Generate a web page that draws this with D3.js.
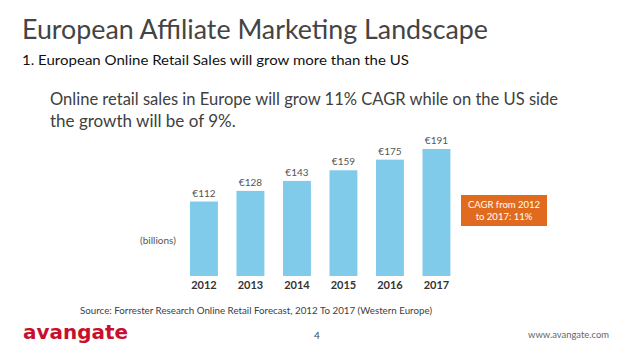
<!DOCTYPE html>
<html>
<head>
<meta charset="utf-8">
<script src="https://cdn.jsdelivr.net/npm/d3@7"></script>
<style>
  html, body { margin: 0; padding: 0; background: #fff; }
  svg { display: block; }
</style>
</head>
<body>
<svg id="chart" width="638" height="359"></svg>
<script>
const years = ["2012", "2013", "2014", "2015", "2016", "2017"];
const sales = [112, 128, 143, 159, 175, 191];
const valueLabels = ["€112", "€128", "€143", "€159", "€175", "€191"];
const titleText = "European Affiliate Marketing Landscape";
const subtitleText = "1. European Online Retail Sales will grow more than the US";
const bodyLines = ["Online retail sales in Europe will grow 11% CAGR while on the US side", "the growth will be of 9%."];
const unitLabel = "(billions)";
const calloutLines = ["CAGR from 2012", "to 2017: 11%"];
const sourceText = "Source: Forrester Research Online Retail Forecast, 2012 To 2017 (Western Europe)";
const pageNumber = "4";
const siteText = "www.avangate.com";
const logoText = "avangate";

const svg = d3.select("#chart");
const font = "Lato, 'Open Sans', sans-serif";

// Header texts
svg.append("text").attr("x", 22).attr("y", 39)
  .attr("font-family", font).attr("font-size", 26).attr("fill", "#444")
  .attr("textLength", 466).attr("lengthAdjust", "spacingAndGlyphs")
  .text(titleText);
svg.append("text").attr("x", 22).attr("y", 65)
  .attr("font-family", font).attr("font-size", 14).attr("fill", "#111")
  .attr("textLength", 387).attr("lengthAdjust", "spacingAndGlyphs")
  .text(subtitleText);
bodyLines.forEach((t, i) => {
  const el = svg.append("text").attr("x", 50).attr("y", 105 + i * 22)
    .attr("font-family", font).attr("font-size", 17).attr("fill", "#404040")
    .text(t);
  if (i === 0) el.attr("textLength", 508).attr("lengthAdjust", "spacingAndGlyphs");
});

// Chart
const x = d3.scaleBand().domain(years).range([180.7, 459.7]).paddingInner(0.4).paddingOuter(0.2);
const y = d3.scaleLinear().domain([0, 191]).range([276, 149]);

svg.append("g").selectAll("rect").data(years).join("rect")
  .attr("x", d => x(d))
  .attr("y", (d, i) => y(sales[i]))
  .attr("width", x.bandwidth())
  .attr("height", (d, i) => y(0) - y(sales[i]))
  .attr("fill", "#80CAEA");

svg.append("g").selectAll("text").data(years).join("text")
  .attr("x", d => x(d) + x.bandwidth() / 2)
  .attr("y", (d, i) => y(sales[i]) - 5)
  .attr("text-anchor", "middle")
  .attr("font-family", font).attr("font-size", 10).attr("fill", "#555")
  .text((d, i) => valueLabels[i]);

const xAxis = svg.append("g").attr("transform", `translate(0,${y(0)})`)
  .call(d3.axisBottom(x).tickSize(0).tickPadding(5));
xAxis.select(".domain").remove();
xAxis.selectAll("text")
  .attr("font-family", font).attr("font-size", 11).attr("font-weight", "bold").attr("fill", "#333");

svg.append("text").attr("x", 158).attr("y", 244).attr("text-anchor", "middle")
  .attr("font-family", font).attr("font-size", 10).attr("fill", "#555")
  .text(unitLabel);

// Callout
svg.append("rect").attr("x", 461).attr("y", 195).attr("width", 86).attr("height", 31)
  .attr("fill", "#E06B1E");
calloutLines.forEach((t, i) => {
  svg.append("text").attr("x", 504).attr("y", 208 + i * 12).attr("text-anchor", "middle")
    .attr("font-family", font).attr("font-size", 9.5).attr("fill", "#fff")
    .text(t);
});

// Source
svg.append("text").attr("x", 80).attr("y", 314)
  .attr("font-family", font).attr("font-size", 9.5).attr("fill", "#404040")
  .attr("textLength", 352).attr("lengthAdjust", "spacingAndGlyphs")
  .text(sourceText);

// Footer
svg.append("text").attr("x", 23).attr("y", 339)
  .attr("font-family", "'DejaVu Sans', sans-serif").attr("font-size", 19).attr("font-weight", "bold").attr("fill", "#C8102E")
  .attr("textLength", 105).attr("lengthAdjust", "spacingAndGlyphs")
  .text(logoText);
svg.append("text").attr("x", 317).attr("y", 339).attr("text-anchor", "middle")
  .attr("font-family", font).attr("font-size", 10).attr("fill", "#444")
  .text(pageNumber);
svg.append("text").attr("x", 528).attr("y", 338)
  .attr("font-family", font).attr("font-size", 8.5).attr("fill", "#666")
  .attr("textLength", 81).attr("lengthAdjust", "spacingAndGlyphs")
  .text(siteText);
</script>
</body>
</html>
